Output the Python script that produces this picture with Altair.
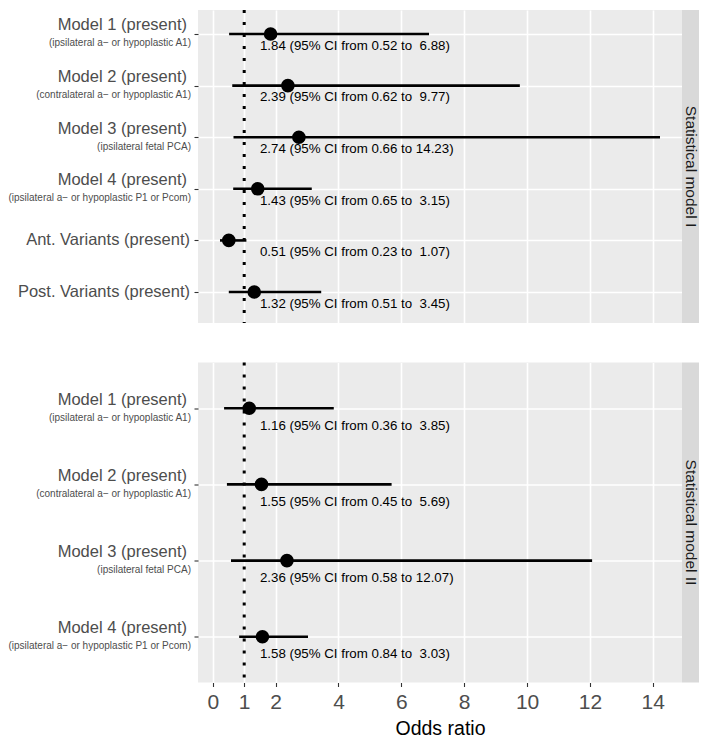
import altair as alt
import pandas as pd

FONT = "Liberation Sans"

# ---- data: Statistical model I ----
main_I = ["Model 1 (present)", "Model 2 (present)", "Model 3 (present)",
          "Model 4 (present)", "Ant. Variants (present)", "Post. Variants (present)"]
sub_I = ["(ipsilateral a\u2212 or hypoplastic A1)", "(contralateral a\u2212 or hypoplastic A1)",
         "(ipsilateral fetal PCA)", "(ipsilateral a\u2212 or hypoplastic P1 or Pcom)", "", ""]
or_I = [1.84, 2.39, 2.74, 1.43, 0.51, 1.32]
lo_I = [0.52, 0.62, 0.66, 0.65, 0.23, 0.51]
hi_I = [6.88, 9.77, 14.23, 3.15, 1.07, 3.45]

# ---- data: Statistical model II ----
main_II = ["Model 1 (present)", "Model 2 (present)", "Model 3 (present)", "Model 4 (present)"]
sub_II = ["(ipsilateral a\u2212 or hypoplastic A1)", "(contralateral a\u2212 or hypoplastic A1)",
          "(ipsilateral fetal PCA)", "(ipsilateral a\u2212 or hypoplastic P1 or Pcom)"]
or_II = [1.16, 1.55, 2.36, 1.58]
lo_II = [0.36, 0.45, 0.58, 0.84]
hi_II = [3.85, 5.69, 12.07, 3.03]

strip_labels = ["Statistical model I", "Statistical model II"]
x_ticks = [0, 1, 2, 4, 6, 8, 10, 12, 14]
ref_line = [1]
x_title = "Odds ratio"

X_DOMAIN = [-0.47, 14.93]
PANEL_W = 484
STRIP_W = 17
TEXT_X = 1.5


def fmt(o, l, h):
    s = f"{o:.2f} (95% CI from {l:.2f} to {h:5.2f})"
    return s.replace("  ", "\u00a0 ")


def make_df(mains, subs, ors, los, his):
    return pd.DataFrame({
        "idx": list(range(1, len(mains) + 1)),
        "main": mains,
        "sub": subs,
        "or": ors,
        "lo": los,
        "hi": his,
        "ann": [fmt(o, l, h) for o, l, h in zip(ors, los, his)],
    })


def panel(df, h, strip_label, bottom, y_lo):
    n = len(df)
    ysc = alt.Scale(domain=[y_lo, n + 0.6], reverse=True, nice=False, zero=False)
    yax = alt.Axis(values=list(range(1, n + 1)), labels=False, ticks=True, tickSize=4,
                   tickColor="#333333", tickWidth=1.1, domain=False, grid=True,
                   gridColor="white", gridWidth=1.6, title=None)
    yenc = alt.Y("idx:Q", scale=ysc, axis=yax)
    xsc = alt.Scale(domain=X_DOMAIN, nice=False, zero=False)
    if bottom:
        xax = alt.Axis(values=x_ticks, grid=True, gridColor="white", gridWidth=1.6,
                       ticks=True, tickSize=4, tickColor="#333333", tickWidth=1.1,
                       domain=False, labelFontSize=21, labelColor="#4D4D4D",
                       labelPadding=5, labelFont=FONT, title=x_title, titleFont=FONT,
                       titleFontSize=19.5, titleFontWeight="normal", titleColor="black",
                       titlePadding=7, format="d")
    else:
        xax = alt.Axis(values=x_ticks, grid=True, gridColor="white", gridWidth=1.6,
                       ticks=False, labels=False, domain=False, title=None)

    base = alt.Chart(df)
    refl = alt.Chart(pd.DataFrame({"v": ref_line})).mark_rule(
        color="black", strokeWidth=3, strokeDash=[3, 9]
    ).encode(x=alt.X("v:Q", scale=xsc, axis=xax))
    ci = base.mark_rule(color="black", strokeWidth=2.6).encode(
        x=alt.X("lo:Q", scale=xsc, axis=xax), x2="hi:Q", y=yenc)
    pts = base.mark_circle(size=185, color="black", opacity=1).encode(
        x=alt.X("or:Q", scale=xsc, axis=xax), y=yenc)
    ann = base.transform_calculate(ytext="datum.idx + 0.23").mark_text(
        align="left", baseline="middle", fontSize=13.3, font=FONT, color="black"
    ).encode(x=alt.datum(TEXT_X), y=alt.Y("ytext:Q", scale=ysc, axis=yax), text="ann:N")

    main_two = base.transform_filter("datum.sub != ''").mark_text(
        align="right", baseline="middle", fontSize=16.5, font=FONT, color="#4D4D4D", dy=-8.5
    ).encode(x=alt.value(-11), y=yenc, text="main:N")
    main_one = base.transform_filter("datum.sub == ''").mark_text(
        align="right", baseline="middle", fontSize=16.5, font=FONT, color="#4D4D4D"
    ).encode(x=alt.value(-8), y=yenc, text="main:N")
    subl = base.transform_filter("datum.sub != ''").mark_text(
        align="right", baseline="middle", fontSize=10, font=FONT, color="#4D4D4D", dy=9.5
    ).encode(x=alt.value(-7), y=yenc, text="sub:N")

    sdf = pd.DataFrame({"strip": [strip_label]})
    srect = alt.Chart(sdf).mark_rect(color="#D9D9D9").encode(
        x=alt.value(PANEL_W), x2=alt.value(PANEL_W + STRIP_W),
        y=alt.value(0), y2=alt.value(h))
    stext = alt.Chart(sdf).mark_text(
        angle=90, fontSize=15.5, font=FONT, color="#1A1A1A", baseline="middle", align="center"
    ).encode(x=alt.value(PANEL_W + STRIP_W / 2), y=alt.value(h / 2), text="strip:N")

    return alt.layer(refl, ci, pts, ann, main_two, main_one, subl, srect, stext).properties(
        width=PANEL_W, height=h)


top = panel(make_df(main_I, sub_I, or_I, lo_I, hi_I), 313, strip_labels[0], False, 0.535)
bot = panel(make_df(main_II, sub_II, or_II, lo_II, hi_II), 320, strip_labels[1], True, 0.4)

chart = alt.vconcat(top, bot, spacing=35.5).properties(
    padding={"left": 0, "top": 0, "right": 0, "bottom": 0}
).configure(
    font=FONT,
    view=alt.ViewConfig(fill="#EBEBEB", stroke="transparent", strokeWidth=0),
)

chart.save("out.html", embed_options={"renderer": "svg", "actions": False})
